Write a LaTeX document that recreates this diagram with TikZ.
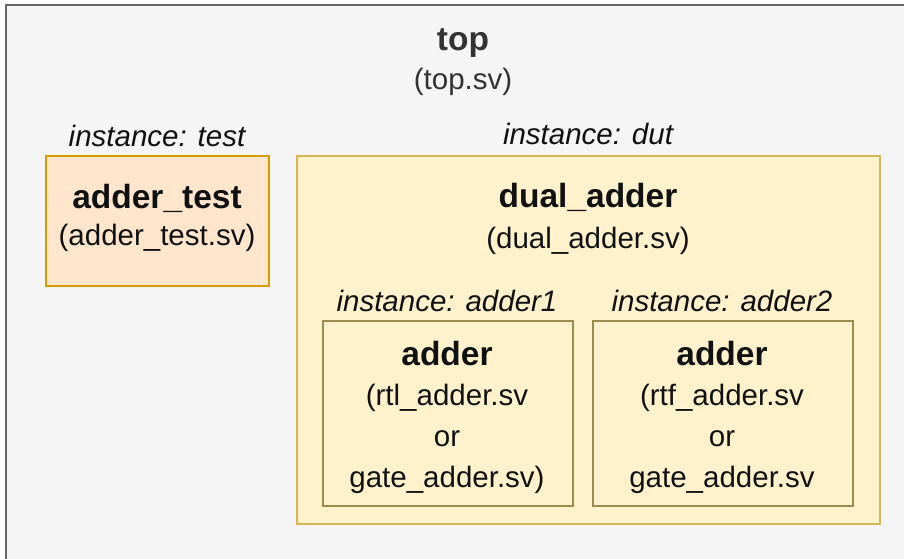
\documentclass[tikz,border=0pt]{standalone}
\usepackage{fontspec}
\setmainfont{Liberation Sans}
\definecolor{outerfill}{HTML}{F5F5F5}
\definecolor{outerline}{HTML}{666666}
\definecolor{testfill}{HTML}{FFE6CC}
\definecolor{testline}{HTML}{D79B00}
\definecolor{dutfill}{HTML}{FFF2CC}
\definecolor{dutline}{HTML}{D6B656}
\definecolor{addline}{HTML}{9C8C4E}
\definecolor{txt}{HTML}{111111}
\tikzset{
  box/.style={draw, line width=1.5pt, inner sep=0pt},
  ttl/.style={anchor=base, inner sep=0pt, text=txt, font=\fontsize{33.5}{38}\selectfont\bfseries},
  sub/.style={anchor=base, inner sep=0pt, text=txt, font=\fontsize{29.5}{34}\selectfont},
  inst/.style={anchor=base, inner sep=0pt, text=txt, font=\fontsize{29.5}{34}\selectfont\itshape},
}
\begin{document}
\begin{tikzpicture}[x=1pt,y=-1pt]
\useasboundingbox (0,0) rectangle (904,558);
\begin{scope}
\clip (0,0) rectangle (904,558);
\node[box, draw=outerline, fill=outerfill, anchor=north west, minimum width=960pt, minimum height=600pt] (top) at (5,4) {};
\end{scope}
\node[ttl, text=black!80] (toptitle) at (463,50) {top};
\node[sub, text=black!80] (topfile) at (463,89) {(top.sv)};

\node[inst] (testinst) at (157,146) {instance: test};
\node[box, draw=testline, fill=testfill, anchor=north west, minimum width=223pt, minimum height=130pt] (test) at (45,155) {};
\node[ttl] (testtitle) at (157,208) {adder\_test};
\node[sub] (testfile) at (157,245) {(adder\_test.sv)};

\node[inst] (dutinst) at (588,144) {instance: dut};
\node[box, draw=dutline, fill=dutfill, anchor=north west, minimum width=583pt, minimum height=368pt] (dut) at (296,155) {};
\node[ttl] (duttitle) at (588,207) {dual\_adder};
\node[sub] (dutfile) at (588,248) {(dual\_adder.sv)};

\node[inst] (a1inst) at (447,311) {instance: adder1};
\node[box, draw=addline, fill=dutfill, anchor=north west, minimum width=250pt, minimum height=185pt] (a1) at (322,320) {};
\node[ttl] (a1title) at (447,365) {adder};
\node[sub] (a1l1) at (447,405) {(rtl\_adder.sv};
\node[sub] (a1l2) at (447,446) {or};
\node[sub] (a1l3) at (447,487) {gate\_adder.sv)};

\node[inst] (a2inst) at (722,311) {instance: adder2};
\node[box, draw=addline, fill=dutfill, anchor=north west, minimum width=260pt, minimum height=185pt] (a2) at (592,320) {};
\node[ttl] (a2title) at (722,365) {adder};
\node[sub] (a2l1) at (722,405) {(rtf\_adder.sv};
\node[sub] (a2l2) at (722,446) {or};
\node[sub] (a2l3) at (722,487) {gate\_adder.sv};
\end{tikzpicture}
\end{document}
